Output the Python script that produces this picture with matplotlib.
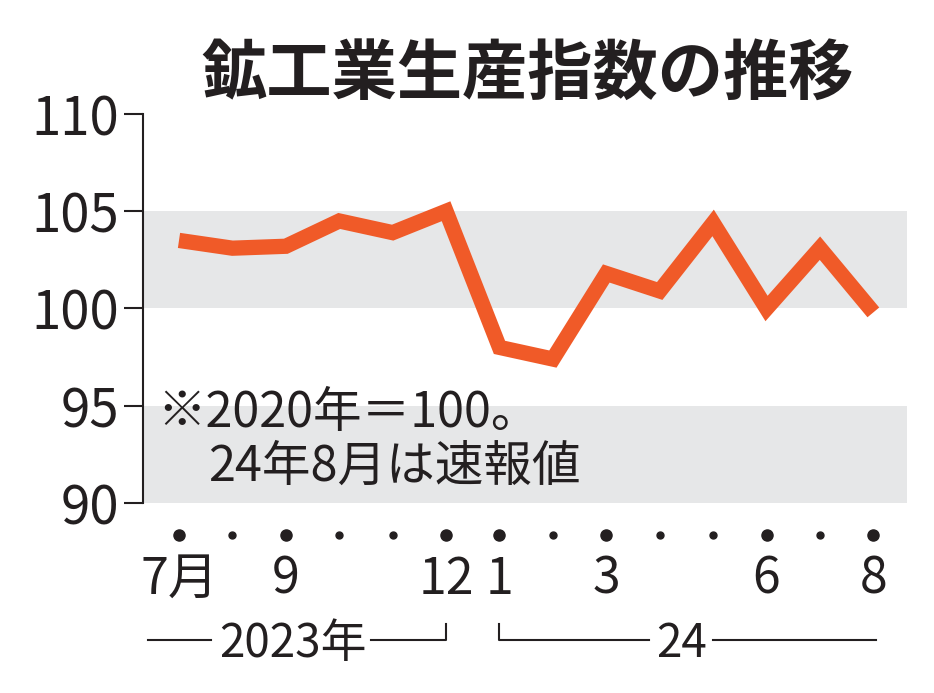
import matplotlib.pyplot as plt

plt.rcParams['font.family'] = ['Noto Sans CJK JP', 'DejaVu Sans']

# データ（2020年=100）
months = ['7', '8', '9', '10', '11', '12', '1', '2', '3', '4', '5', '6', '7', '8']
tick_labels = ['7月', '', '9', '', '', '12', '1', '', '3', '', '', '6', '', '8']
index_values = [103.5, 103.1, 103.2, 104.5, 103.9, 105.0, 98.0, 97.4,
                101.8, 100.9, 104.4, 100.0, 103.1, 99.8]
year_labels = ['2023年', '24']

LINE = '#f05a28'
BAND = '#e6e7e8'
INK = '#231f20'

fig = plt.figure(figsize=(9.34, 6.93), dpi=100)
ax = fig.add_axes([0.1531, 0.2742, 0.818, 0.5613])

x = list(range(len(months)))

# 背景の帯
ax.axhspan(100, 105, color=BAND, lw=0, zorder=0)
ax.axhspan(90, 95, color=BAND, lw=0, zorder=0)

ax.plot(x, index_values, color=LINE, lw=11, solid_joinstyle='miter',
        solid_capstyle='butt', zorder=3)

ax.set_xlim(-0.674, 13.63)
ax.set_ylim(90, 110)
ax.set_yticks([90, 95, 100, 105, 110])
ax.tick_params(axis='y', length=14, width=1.5, pad=3, labelsize=38,
               colors=INK)
ax.set_xticks([])
for s in ['top', 'right', 'bottom']:
    ax.spines[s].set_visible(False)
ax.spines['left'].set_linewidth(1.5)
ax.spines['left'].set_color(INK)

# x軸の点と月ラベル
tr = ax.get_xaxis_transform()
for i, lab in enumerate(tick_labels):
    big = lab != ''
    ax.plot(i, -0.082, 'o', ms=8 if big else 5, color=INK,
            transform=tr, clip_on=False)
    if big:
        ax.text(i, -0.198, lab, transform=tr, ha='center', va='center',
                fontsize=36, color=INK)

# 年のブラケット
yb = -0.352
ytop = -0.31
ax.plot([-0.58, 0.6], [yb, yb], color=INK, lw=1.5, transform=tr, clip_on=False)
ax.plot([3.6, 5.0, 5.0], [yb, yb, ytop], color=INK, lw=1.5, transform=tr,
        clip_on=False)
ax.text(2.14, yb - 0.01, year_labels[0], transform=tr, ha='center',
        va='center', fontsize=33, color=INK)
ax.plot([6.0, 6.0, 8.8], [ytop, yb, yb], color=INK, lw=1.5, transform=tr,
        clip_on=False)
ax.plot([10.0, 13.05], [yb, yb], color=INK, lw=1.5, transform=tr,
        clip_on=False)
ax.text(9.4, yb - 0.01, year_labels[1], transform=tr, ha='center',
        va='center', fontsize=33, color=INK)

# 注記
ax.text(-0.4, 94.6, '※2020年＝100。', ha='left', va='center', fontsize=35,
        color=INK, zorder=4)
ax.text(0.55, 91.85, '24年8月は速報値', ha='left', va='center', fontsize=35,
        color=INK, zorder=4)

fig.text(0.565, 0.893, '鉱工業生産指数の推移', ha='center', va='center',
         fontsize=47, fontweight='bold', color=INK)

fig.savefig('out.png', dpi=100)
